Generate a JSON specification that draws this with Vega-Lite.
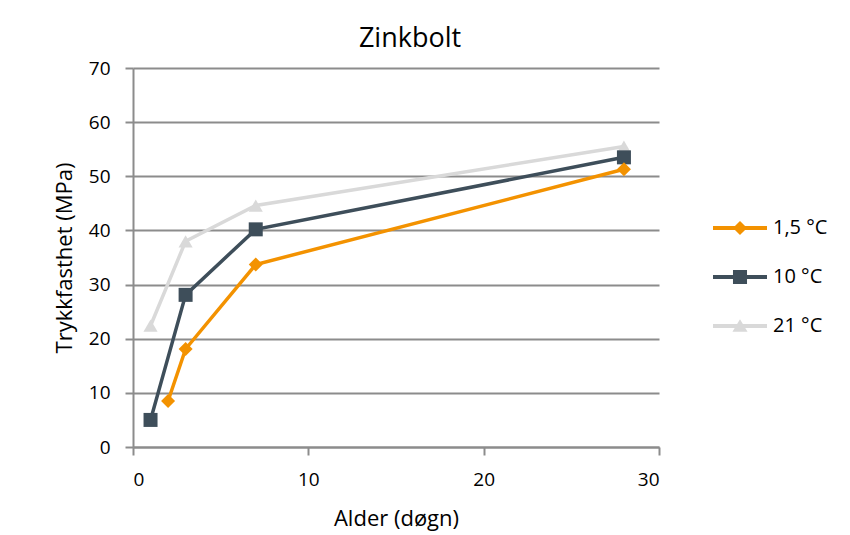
{
  "$schema": "https://vega.github.io/schema/vega-lite/v6.json",
  "autosize": {"type": "none"},
  "width": 526,
  "height": 379,
  "padding": {"left": 133, "top": 68, "right": 191, "bottom": 88},
  "background": "#ffffff",
  "title": {
    "text": "Zinkbolt",
    "font": "Open Sans",
    "fontSize": 27,
    "fontWeight": "normal",
    "color": "#000000",
    "anchor": "middle",
    "dx": 14,
    "offset": 6
  },
  "data": {
    "values": [
      {"serie": "21 °C", "dag": 1, "fasthet": 22.4},
      {"serie": "21 °C", "dag": 3, "fasthet": 38.0},
      {"serie": "21 °C", "dag": 7, "fasthet": 44.6},
      {"serie": "21 °C", "dag": 28, "fasthet": 55.5},
      {"serie": "10 °C", "dag": 1, "fasthet": 5.0},
      {"serie": "10 °C", "dag": 3, "fasthet": 28.1},
      {"serie": "10 °C", "dag": 7, "fasthet": 40.2},
      {"serie": "10 °C", "dag": 28, "fasthet": 53.5},
      {"serie": "1,5 °C", "dag": 2, "fasthet": 8.5},
      {"serie": "1,5 °C", "dag": 3, "fasthet": 18.1},
      {"serie": "1,5 °C", "dag": 7, "fasthet": 33.7},
      {"serie": "1,5 °C", "dag": 28, "fasthet": 51.3}
    ]
  },
  "encoding": {
    "x": {
      "field": "dag",
      "type": "quantitative",
      "title": "Alder (døgn)",
      "scale": {"domain": [0, 30], "nice": false, "zero": true},
      "axis": {
        "values": [0, 10, 20, 30],
        "grid": false,
        "domain": true,
        "domainColor": "#8c8c8c",
        "domainWidth": 2,
        "ticks": true,
        "tickColor": "#8c8c8c",
        "tickWidth": 2,
        "tickSize": 8,
        "labelPadding": 15,
        "titlePadding": 19
      }
    },
    "y": {
      "field": "fasthet",
      "type": "quantitative",
      "title": "Trykkfasthet (MPa)",
      "scale": {"domain": [0, 70], "nice": false},
      "axis": {
        "values": [0, 10, 20, 30, 40, 50, 60, 70],
        "grid": true,
        "gridColor": "#8c8c8c",
        "gridWidth": 2,
        "domain": true,
        "domainColor": "#8c8c8c",
        "domainWidth": 2,
        "ticks": true,
        "tickColor": "#8c8c8c",
        "tickWidth": 2,
        "tickSize": 8,
        "labelPadding": 15,
        "titlePadding": 12
      }
    }
  },
  "layer": [
    {
      "transform": [{"filter": "datum.serie == '21 °C'"}],
      "mark": {"type": "line", "strokeWidth": 3.5, "color": "#D9D9D9"},
      "encoding": {"order": {"field": "dag", "type": "quantitative"}}
    },
    {
      "transform": [{"filter": "datum.serie == '10 °C'"}],
      "mark": {"type": "line", "strokeWidth": 3.5, "color": "#3E4E5A"},
      "encoding": {"order": {"field": "dag", "type": "quantitative"}}
    },
    {
      "transform": [{"filter": "datum.serie == '1,5 °C'"}],
      "mark": {"type": "line", "strokeWidth": 3.5, "color": "#F39200"},
      "encoding": {"order": {"field": "dag", "type": "quantitative"}}
    },
    {
      "transform": [{"filter": "datum.serie == '21 °C'"}],
      "mark": {"type": "point", "shape": "triangle-up", "filled": true, "opacity": 1, "size": 200, "color": "#D9D9D9"}
    },
    {
      "transform": [{"filter": "datum.serie == '10 °C'"}],
      "mark": {"type": "point", "shape": "square", "filled": true, "opacity": 1, "size": 196, "color": "#3E4E5A"}
    },
    {
      "transform": [{"filter": "datum.serie == '1,5 °C'"}],
      "mark": {"type": "point", "shape": "diamond", "filled": true, "opacity": 1, "size": 196, "color": "#F39200"}
    },
    {
      "transform": [{"filter": "datum.dag < 0"}],
      "mark": {"type": "point", "filled": true, "opacity": 1},
      "encoding": {
        "color": {
          "field": "serie",
          "type": "nominal",
          "title": null,
          "scale": {
            "domain": ["1,5 °C", "10 °C", "21 °C"],
            "range": ["#F39200", "#3E4E5A", "#D9D9D9"]
          },
          "legend": {
            "orient": "none",
            "legendX": 593.5,
            "legendY": 146.5,
            "padding": 0,
            "symbolSize": 729,
            "symbolStrokeWidth": 0,
            "labelOffset": 19.5,
            "rowPadding": 25,
            "labelFont": "Open Sans",
            "labelFontSize": 20,
            "labelColor": "#000000",
            "labelLimit": 200
          }
        },
        "shape": {
          "field": "serie",
          "type": "nominal",
          "title": null,
          "scale": {
            "domain": ["1,5 °C", "10 °C", "21 °C"],
            "range": [
              "M-2,-0.15H2V0.15H-2Z M0,-0.52L0.52,0L0,0.52L-0.52,0Z",
              "M-2,-0.15H2V0.15H-2Z M-0.52,-0.52H0.52V0.52H-0.52Z",
              "M-2,-0.15H2V0.15H-2Z M0,-0.5L0.56,0.42L-0.56,0.42Z"
            ]
          },
          "legend": {
            "orient": "none",
            "legendX": 593.5,
            "legendY": 146.5,
            "padding": 0,
            "symbolSize": 729,
            "symbolStrokeWidth": 0,
            "labelOffset": 19.5,
            "rowPadding": 25,
            "labelFont": "Open Sans",
            "labelFontSize": 20,
            "labelColor": "#000000",
            "labelLimit": 200
          }
        }
      }
    }
  ],
  "config": {
    "view": {"stroke": null},
    "axis": {
      "labelFont": "Open Sans",
      "labelFontSize": 19,
      "labelColor": "#000000",
      "titleFont": "Open Sans",
      "titleFontSize": 22,
      "titleFontWeight": "normal",
      "titleColor": "#000000"
    }
  }
}
